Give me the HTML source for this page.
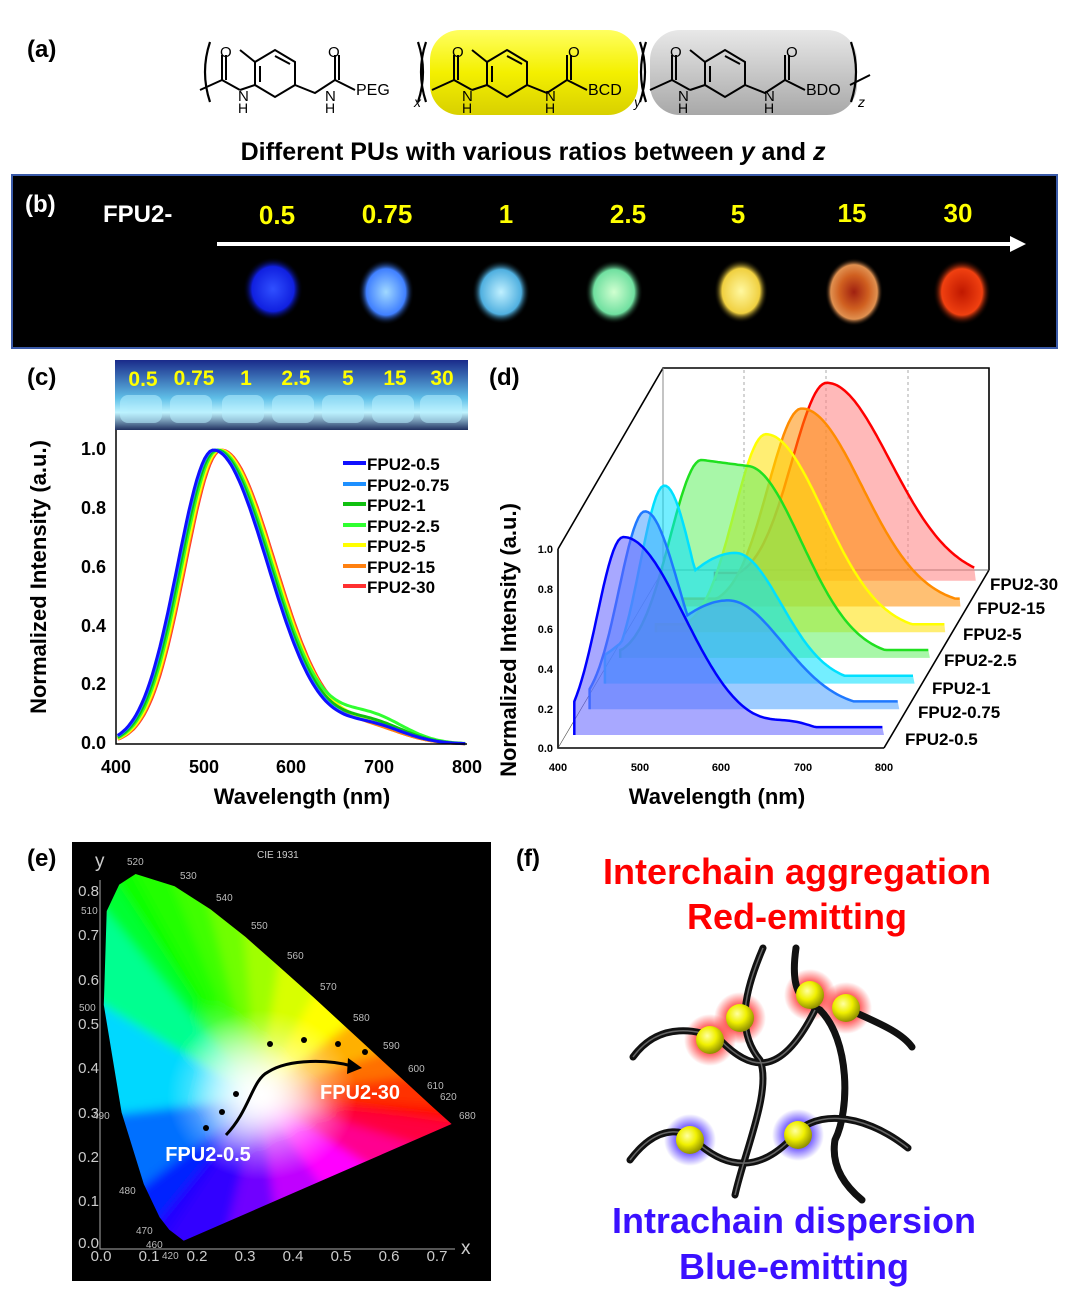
<!DOCTYPE html>
<html><head><meta charset="utf-8"><style>
html,body{margin:0;padding:0;background:#fff;}
svg{display:block;font-family:"Liberation Sans",Arial,sans-serif;}
</style></head><body>
<svg id="s" width="1080" height="1295" viewBox="0 0 1080 1295" xmlns="http://www.w3.org/2000/svg">
<defs>
<linearGradient id="yel" x1="0" y1="0" x2="0" y2="1"><stop offset="0" stop-color="#ffff60"/><stop offset="0.5" stop-color="#f4f000"/><stop offset="1" stop-color="#d8d000"/></linearGradient>
<linearGradient id="gry" x1="0" y1="0" x2="0" y2="1"><stop offset="0" stop-color="#e8e8e8"/><stop offset="0.5" stop-color="#c8c8c8"/><stop offset="1" stop-color="#a8a8a8"/></linearGradient>
<radialGradient id="b1"><stop offset="0" stop-color="#3050ff"/><stop offset="0.7" stop-color="#1020e0"/><stop offset="1" stop-color="#000" stop-opacity="0"/></radialGradient>
<radialGradient id="b2"><stop offset="0" stop-color="#a0d8ff"/><stop offset="0.7" stop-color="#4080ff"/><stop offset="1" stop-color="#000" stop-opacity="0"/></radialGradient>
<radialGradient id="b3"><stop offset="0" stop-color="#c0f0ff"/><stop offset="0.7" stop-color="#50b0e0"/><stop offset="1" stop-color="#000" stop-opacity="0"/></radialGradient>
<radialGradient id="b4"><stop offset="0" stop-color="#d0ffd0"/><stop offset="0.7" stop-color="#70e0a0"/><stop offset="1" stop-color="#000" stop-opacity="0"/></radialGradient>
<radialGradient id="b5"><stop offset="0" stop-color="#fff8a0"/><stop offset="0.7" stop-color="#f0d040"/><stop offset="1" stop-color="#000" stop-opacity="0"/></radialGradient>
<radialGradient id="b6"><stop offset="0" stop-color="#a02010"/><stop offset="0.5" stop-color="#d06020"/><stop offset="0.8" stop-color="#e09050"/><stop offset="1" stop-color="#000" stop-opacity="0"/></radialGradient>
<radialGradient id="b7"><stop offset="0" stop-color="#c01800"/><stop offset="0.7" stop-color="#f04010"/><stop offset="1" stop-color="#000" stop-opacity="0"/></radialGradient>
<linearGradient id="photo" x1="0" y1="0" x2="0" y2="1"><stop offset="0" stop-color="#1a2a8a"/><stop offset="0.55" stop-color="#60c0e8"/><stop offset="0.75" stop-color="#c0f4ff"/><stop offset="1" stop-color="#203060"/></linearGradient>
<clipPath id="cie"><path id="locus" d=""/></clipPath>
<filter id="blur" x="-0.1" y="-0.1" width="1.2" height="1.2"><feGaussianBlur stdDeviation="5"/></filter>
<radialGradient id="wp"><stop offset="0" stop-color="#fff" stop-opacity="1"/><stop offset="0.4" stop-color="#fff" stop-opacity="0.6"/><stop offset="1" stop-color="#fff" stop-opacity="0"/></radialGradient>
<radialGradient id="sph" cx="0.4" cy="0.35" r="0.65"><stop offset="0" stop-color="#ffffa0"/><stop offset="0.5" stop-color="#f0f000"/><stop offset="1" stop-color="#909000"/></radialGradient>
<radialGradient id="rg"><stop offset="0.4" stop-color="#ff2020" stop-opacity="0.9"/><stop offset="1" stop-color="#ff2020" stop-opacity="0"/></radialGradient>
<radialGradient id="bg"><stop offset="0.4" stop-color="#4020ff" stop-opacity="0.9"/><stop offset="1" stop-color="#4020ff" stop-opacity="0"/></radialGradient>
</defs>

<!-- (a) -->
<text x="27" y="57" font-size="24" font-weight="bold">(a)</text>
<rect x="430" y="30" width="208" height="85" rx="30" fill="url(#yel)"/>
<rect x="650" y="30" width="207" height="85" rx="30" fill="url(#gry)"/>
<g stroke="#000" stroke-width="2.2" fill="none">
<path d="M210 42 Q200 72 210 102 M418 42 Q428 72 418 102 M426 42 Q416 72 426 102 M640 42 Q650 72 640 102 M646 42 Q636 72 646 102 M851 42 Q861 72 851 102"/>
</g>
<g stroke="#000" stroke-width="2" fill="none">
<path d="M200 90 L222 80 L222 55 M226 80 L226 55 M222 80 L240 90"/>
<path d="M255 85 L255 62 L275 50 L295 62 L295 85 L275 97 Z M260 66 L260 82 M275 56 L290 64"/>
<path d="M255 62 L240 50 M240 90 L255 85"/>
<path d="M295 85 L315 93 L335 80 L335 55 M339 80 L339 55 M335 80 L355 90"/>
</g>
<text x="220" y="57" font-size="15">O</text><text x="238" y="101" font-size="15">N</text><text x="238" y="113" font-size="14">H</text>
<text x="328" y="57" font-size="15">O</text><text x="325" y="101" font-size="15">N</text><text x="325" y="113" font-size="14">H</text>
<text x="356" y="95" font-size="16">PEG</text><text x="414" y="107" font-size="14" font-style="italic">x</text>
<g transform="translate(232,0)">
<g stroke="#000" stroke-width="2" fill="none">
<path d="M200 90 L222 80 L222 55 M226 80 L226 55 M222 80 L240 90"/>
<path d="M255 85 L255 62 L275 50 L295 62 L295 85 L275 97 Z M260 66 L260 82 M275 56 L290 64"/>
<path d="M255 62 L240 50 M240 90 L255 85"/>
<path d="M295 85 L315 93 L335 80 L335 55 M339 80 L339 55 M335 80 L355 90"/>
</g>
<text x="220" y="57" font-size="15">O</text><text x="230" y="101" font-size="15">N</text><text x="230" y="113" font-size="14">H</text>
<text x="336" y="57" font-size="15">O</text><text x="313" y="101" font-size="15">N</text><text x="313" y="113" font-size="14">H</text>
<text x="356" y="95" font-size="16">BCD</text><text x="402" y="107" font-size="14" font-style="italic">y</text>
</g>
<g transform="translate(450,0)">
<g stroke="#000" stroke-width="2" fill="none">
<path d="M200 90 L222 80 L222 55 M226 80 L226 55 M222 80 L240 90"/>
<path d="M255 85 L255 62 L275 50 L295 62 L295 85 L275 97 Z M260 66 L260 82 M275 56 L290 64"/>
<path d="M255 62 L240 50 M240 90 L255 85"/>
<path d="M295 85 L315 93 L335 80 L335 55 M339 80 L339 55 M335 80 L355 90"/>
<path d="M400 85 L420 75"/>
</g>
<text x="220" y="57" font-size="15">O</text><text x="228" y="101" font-size="15">N</text><text x="228" y="113" font-size="14">H</text>
<text x="336" y="57" font-size="15">O</text><text x="314" y="101" font-size="15">N</text><text x="314" y="113" font-size="14">H</text>
<text x="356" y="95" font-size="16">BDO</text><text x="408" y="107" font-size="14" font-style="italic">z</text>
</g>
<text x="533" y="160" font-size="25" font-weight="bold" text-anchor="middle">Different PUs with various ratios between <tspan font-style="italic">y</tspan> and <tspan font-style="italic">z</tspan></text>

<!-- (b) -->
<rect x="12" y="175" width="1045" height="173" fill="#000" stroke="#3a5aa8" stroke-width="2"/>
<text x="25" y="212" font-size="24" font-weight="bold" fill="#fff">(b)</text>
<text x="103" y="222" font-size="24" font-weight="bold" fill="#fff">FPU2-</text>
<g font-size="26" font-weight="bold" fill="#ffff00" text-anchor="middle">
<text x="277" y="224">0.5</text><text x="387" y="223">0.75</text><text x="506" y="223">1</text><text x="628" y="223">2.5</text><text x="738" y="223">5</text><text x="852" y="222">15</text><text x="958" y="222">30</text>
</g>
<line x1="217" y1="244" x2="1012" y2="244" stroke="#fff" stroke-width="4"/>
<path d="M1026 244 L1010 236 L1010 252 Z" fill="#fff"/>
<ellipse cx="273" cy="289" rx="30" ry="32" fill="url(#b1)"/>
<ellipse cx="386" cy="292" rx="28" ry="33" fill="url(#b2)"/>
<ellipse cx="501" cy="292" rx="29" ry="32" fill="url(#b3)"/>
<ellipse cx="614" cy="292" rx="29" ry="32" fill="url(#b4)"/>
<ellipse cx="741" cy="291" rx="27" ry="32" fill="url(#b5)"/>
<ellipse cx="854" cy="292" rx="29" ry="34" fill="url(#b6)"/>
<ellipse cx="962" cy="292" rx="29" ry="33" fill="url(#b7)"/>

<!-- (c) -->
<text x="27" y="385" font-size="24" font-weight="bold">(c)</text>
<rect x="115" y="360" width="353" height="70" fill="url(#photo)"/>
<g fill="#b8f0ff" opacity="0.55">
<rect x="120" y="395" width="42" height="28" rx="8"/><rect x="170" y="395" width="42" height="28" rx="8"/><rect x="222" y="395" width="42" height="28" rx="8"/><rect x="272" y="395" width="42" height="28" rx="8"/><rect x="322" y="395" width="42" height="28" rx="8"/><rect x="372" y="395" width="42" height="28" rx="8"/><rect x="420" y="395" width="42" height="28" rx="8"/>
</g>
<g font-size="21" font-weight="bold" fill="#ffff00" text-anchor="middle">
<text x="143" y="386">0.5</text><text x="194" y="385">0.75</text><text x="246" y="385">1</text><text x="296" y="385">2.5</text><text x="348" y="385">5</text><text x="395" y="385">15</text><text x="442" y="385">30</text>
</g>
<g id="cplot"></g>
<g stroke="#000" stroke-width="1.5" fill="none"><path d="M116 430 L116 744 L467 744"/></g>
<g font-size="18" font-weight="bold" text-anchor="end">
<text x="106" y="455">1.0</text><text x="106" y="514">0.8</text><text x="106" y="573">0.6</text><text x="106" y="632">0.4</text><text x="106" y="690">0.2</text><text x="106" y="749">0.0</text>
</g>
<g font-size="18" font-weight="bold" text-anchor="middle">
<text x="116" y="773">400</text><text x="204" y="773">500</text><text x="291" y="773">600</text><text x="379" y="773">700</text><text x="467" y="773">800</text>
</g>
<text x="302" y="804" font-size="22" font-weight="bold" text-anchor="middle">Wavelength (nm)</text>
<text transform="translate(46,577) rotate(-90)" font-size="22" font-weight="bold" text-anchor="middle">Normalized Intensity (a.u.)</text>
<g font-size="17" font-weight="bold">
<line x1="343" y1="463" x2="366" y2="463" stroke="#1010ff" stroke-width="4"/><text x="367" y="470">FPU2-0.5</text>
<line x1="343" y1="484" x2="366" y2="484" stroke="#1e90ff" stroke-width="4"/><text x="367" y="491">FPU2-0.75</text>
<line x1="343" y1="504" x2="366" y2="504" stroke="#10c010" stroke-width="4"/><text x="367" y="511">FPU2-1</text>
<line x1="343" y1="525" x2="366" y2="525" stroke="#30ff30" stroke-width="4"/><text x="367" y="532">FPU2-2.5</text>
<line x1="343" y1="545" x2="366" y2="545" stroke="#ffff00" stroke-width="4"/><text x="367" y="552">FPU2-5</text>
<line x1="343" y1="566" x2="366" y2="566" stroke="#ff8010" stroke-width="4"/><text x="367" y="573">FPU2-15</text>
<line x1="343" y1="586" x2="366" y2="586" stroke="#ff3030" stroke-width="4"/><text x="367" y="593">FPU2-30</text>
</g>

<!-- (d) -->
<text x="489" y="385" font-size="24" font-weight="bold">(d)</text>
<g stroke="#000" stroke-width="1.6" fill="none">
<path d="M558 549 L663 368 L989 368 L989 570 M884 748 L989 570 M558 549 L558 748 L884 748"/>
</g>
<line x1="663" y1="368" x2="663" y2="570" stroke="#888" stroke-width="1"/>
<g stroke="#aaa" stroke-dasharray="3,3" stroke-width="1"><line x1="744" y1="370" x2="744" y2="570"/><line x1="826" y1="370" x2="826" y2="570"/><line x1="908" y1="370" x2="908" y2="570"/></g>
<line x1="558" y1="748" x2="663" y2="570" stroke="#444" stroke-width="0.6"/>
<line x1="663" y1="570" x2="989" y2="570" stroke="#444" stroke-width="0.8"/>
<g id="dplot"></g>
<g font-size="11" font-weight="bold" text-anchor="end">
<text x="553" y="553">1.0</text><text x="553" y="593">0.8</text><text x="553" y="633">0.6</text><text x="553" y="673">0.4</text><text x="553" y="713">0.2</text><text x="553" y="752">0.0</text>
</g>
<g font-size="11" font-weight="bold" text-anchor="middle">
<text x="558" y="771">400</text><text x="640" y="771">500</text><text x="721" y="771">600</text><text x="803" y="771">700</text><text x="884" y="771">800</text>
</g>
<g font-size="17" font-weight="bold">
<text x="990" y="590">FPU2-30</text><text x="977" y="614">FPU2-15</text><text x="963" y="640">FPU2-5</text><text x="944" y="666">FPU2-2.5</text><text x="932" y="694">FPU2-1</text><text x="918" y="718">FPU2-0.75</text><text x="905" y="745">FPU2-0.5</text>
</g>
<text x="717" y="804" font-size="22" font-weight="bold" text-anchor="middle">Wavelength (nm)</text>
<text transform="translate(516,640) rotate(-90)" font-size="22" font-weight="bold" text-anchor="middle">Normalized Intensity (a.u.)</text>

<!-- (e) -->
<text x="27" y="866" font-size="24" font-weight="bold">(e)</text>
<rect x="72" y="842" width="419" height="439" fill="#000"/>
<g clip-path="url(#cie)">
<g id="fan" filter="url(#blur)"></g>
<ellipse cx="262" cy="1095" rx="95" ry="85" fill="url(#wp)"/>
</g>
<g stroke="#aaa" stroke-width="1" fill="none"><path d="M100 880 L100 1249 L455 1249"/></g>
<g fill="#ccc" font-size="15" text-anchor="end">
<text x="99" y="896">0.8</text><text x="99" y="940">0.7</text><text x="99" y="985">0.6</text><text x="99" y="1029">0.5</text><text x="99" y="1073">0.4</text><text x="99" y="1118">0.3</text><text x="99" y="1162">0.2</text><text x="99" y="1206">0.1</text><text x="99" y="1248">0.0</text>
</g>
<g fill="#ccc" font-size="15" text-anchor="middle">
<text x="101" y="1261">0.0</text><text x="149" y="1261">0.1</text><text x="197" y="1261">0.2</text><text x="245" y="1261">0.3</text><text x="293" y="1261">0.4</text><text x="341" y="1261">0.5</text><text x="389" y="1261">0.6</text><text x="437" y="1261">0.7</text>
</g>
<text x="95" y="867" fill="#ccc" font-size="19">y</text>
<text x="461" y="1254" fill="#ccc" font-size="19">x</text>
<text x="257" y="858" fill="#ccc" font-size="10">CIE 1931</text>
<g fill="#bbb" font-size="10">
<text x="127" y="865">520</text><text x="180" y="879">530</text><text x="216" y="901">540</text><text x="251" y="929">550</text><text x="287" y="959">560</text><text x="320" y="990">570</text><text x="353" y="1021">580</text><text x="383" y="1049">590</text><text x="408" y="1072">600</text><text x="427" y="1089">610</text><text x="440" y="1100">620</text><text x="459" y="1119">680</text>
<text x="81" y="914">510</text><text x="79" y="1011">500</text><text x="93" y="1119">490</text><text x="119" y="1194">480</text><text x="136" y="1234">470</text><text x="146" y="1248">460</text><text x="162" y="1259">420</text>
</g>
<g fill="#000"><circle cx="206" cy="1128" r="3"/><circle cx="222" cy="1112" r="3"/><circle cx="236" cy="1094" r="3"/><circle cx="270" cy="1044" r="3"/><circle cx="304" cy="1040" r="3"/><circle cx="338" cy="1044" r="3"/><circle cx="365" cy="1052" r="3"/></g>
<path d="M226 1135 C250 1110 252 1080 268 1072 C290 1058 330 1060 352 1066" stroke="#000" stroke-width="3" fill="none"/>
<path d="M362 1068 L348 1058 L347 1074 Z" fill="#000"/>
<text x="360" y="1099" fill="#fff" font-size="20" font-weight="bold" text-anchor="middle">FPU2-30</text>
<text x="208" y="1161" fill="#fff" font-size="20" font-weight="bold" text-anchor="middle">FPU2-0.5</text>

<!-- (f) -->
<text x="516" y="866" font-size="24" font-weight="bold">(f)</text>
<g font-size="36" font-weight="bold" text-anchor="middle">
<text x="797" y="884" fill="#ff0000">Interchain aggregation</text>
<text x="797" y="929" fill="#ff0000">Red-emitting</text>
<text x="794" y="1233" fill="#3a10ff">Intrachain dispersion</text>
<text x="794" y="1279" fill="#3a10ff">Blue-emitting</text>
</g>
<circle cx="740" cy="1018" r="26" fill="url(#rg)"/><circle cx="710" cy="1040" r="26" fill="url(#rg)"/><circle cx="810" cy="995" r="26" fill="url(#rg)"/><circle cx="846" cy="1008" r="26" fill="url(#rg)"/>
<circle cx="690" cy="1140" r="26" fill="url(#bg)"/><circle cx="798" cy="1135" r="26" fill="url(#bg)"/>
<g stroke="#111" stroke-width="7" fill="none" stroke-linecap="round">
<path d="M763 948 C745 990 735 1030 760 1060 C772 1090 745 1150 735 1195"/>
<path d="M796 948 C790 990 800 1000 820 1010 C850 1040 850 1110 835 1140 C830 1170 850 1190 862 1200"/>
<path d="M633 1057 C660 1020 700 1030 720 1040 C750 1070 780 1080 815 1010"/>
<path d="M846 1008 C870 1020 900 1030 912 1047"/>
<path d="M630 1160 C660 1120 690 1130 700 1145 C730 1170 760 1170 790 1140 C810 1110 860 1110 908 1148"/>
</g>
<g stroke="#666" stroke-width="1.5" fill="none">
<path d="M763 948 C745 990 735 1030 760 1060 C772 1090 745 1150 735 1195"/>
<path d="M633 1057 C660 1020 700 1030 720 1040 C750 1070 780 1080 815 1010"/>
<path d="M630 1160 C660 1120 690 1130 700 1145 C730 1170 760 1170 790 1140 C810 1110 860 1110 908 1148"/>
</g>
<g fill="url(#sph)"><circle cx="740" cy="1018" r="14"/><circle cx="710" cy="1040" r="14"/><circle cx="810" cy="995" r="14"/><circle cx="846" cy="1008" r="14"/><circle cx="690" cy="1140" r="14"/><circle cx="798" cy="1135" r="14"/></g>
</svg>
<script>
(function(){
var NS="http://www.w3.org/2000/svg";
function el(p,t,a){var e=document.createElementNS(NS,t);for(var k in a)e.setAttribute(k,a[k]);p.appendChild(e);return e;}
function g(l,p,wl,wr){var w=l<p?wl:wr;return Math.exp(-Math.pow((l-p)/w,2));}
var c=document.getElementById('cplot');
var cc=[["#ff3030",520,0.05],["#ff8010",519,0.05],["#ffff00",518,0.06],["#30ff30",516,0.09],["#10c010",514,0.07],["#1e90ff",512,0.06],["#1010ff",511,0.06]];
cc.forEach(function(a){
  var d="";
  for(var l=402;l<=800;l+=3){
    var v=g(l,a[1],58,88)+a[2]*Math.exp(-Math.pow((l-690)/55,2));
    var x=116+(l-400)*0.8775,y=744-v*294;
    d+=(d?"L":"M")+x.toFixed(1)+" "+y.toFixed(1);}
  el(c,"path",{d:d,stroke:a[0],"stroke-width":3,fill:"none"});
});
var dp=document.getElementById('dplot');
var L=[
 {c:"#0000ff",f:"#6060ff",fn:function(l){return g(l,480,45,105)+0.05*Math.exp(-Math.pow((l-690)/40,2));},s:420},
 {c:"#1e78ff",f:"#4aa0ff",fn:function(l){return Math.max(g(l,488,45,60),0.55*g(l,590,130,95));},s:420},
 {c:"#00e0ff",f:"#00e0ff",fn:function(l){return Math.max(g(l,493,42,50),0.66*g(l,580,130,80));},s:420},
 {c:"#20e020",f:"#60f060",fn:function(l){return l<520?g(l,520,55,1):(l<575?1-0.03*(l-520)/55:0.97*g(l,575,1,95));},s:420},
 {c:"#ffff00",f:"#ffe000",fn:function(l){return g(l,580,55,100);},s:445},
 {c:"#ff8c00",f:"#ff8c00",fn:function(l){return g(l,605,58,105);},s:460},
 {c:"#ff0000",f:"#ff8080",fn:function(l){return g(l,617,60,110);},s:480}
];
for(var i=L.length-1;i>=0;i--){
  var a=L[i];var ox=i*15.3,base=735-i*25.7;
  var pts=[];
  for(var l=a.s;l<=800;l+=3){
    var v=Math.max(a.fn(l),0.04)*0.99;
    pts.push([(558+ox+(l-400)*0.815).toFixed(1),(base-v*200).toFixed(1)]);}
  var x0=558+ox+(a.s-400)*0.815,x1=558+ox+400*0.815;
  var d="M"+x0+" "+base+"L"+pts.map(function(p){return p.join(" ")}).join("L")+"L"+x1+" "+base+"Z";
  el(dp,"path",{d:d,fill:a.f,"fill-opacity":0.55,stroke:"none"});
  var d2="M"+x0+" "+base+"L"+pts.map(function(p){return p.join(" ")}).join("L");
  el(dp,"path",{d:d2,fill:"none",stroke:a.c,"stroke-width":2.5});
}
var loc=[[0.1741,0.005,"#3000ff"],[0.144,0.030,"#2000ff"],[0.124,0.058,"#0020ff"],[0.091,0.133,"#0070ff"],[0.045,0.295,"#00d8ff"],[0.008,0.538,"#00ff90"],[0.014,0.750,"#00ff30"],[0.040,0.81,"#10ff00"],[0.074,0.834,"#20ff00"],[0.155,0.806,"#40ff00"],[0.230,0.754,"#70ff00"],[0.302,0.692,"#a0ff00"],[0.373,0.624,"#d8ff00"],[0.444,0.555,"#ffff00"],[0.512,0.487,"#ffb000"],[0.575,0.424,"#ff7000"],[0.627,0.372,"#ff3000"],[0.691,0.308,"#ff1000"],[0.731,0.269,"#ff0000"]];
function X(x){return 100+x*481;}function Y(y){return 1243-y*442.5;}
var d="";loc.forEach(function(p){d+=(d?"L":"M")+X(p[0]).toFixed(1)+" "+Y(p[1]).toFixed(1);});
document.getElementById('locus').setAttribute('d',d+"Z");
var fan=document.getElementById('fan');var wx=X(0.33),wy=Y(0.33);
var defs=document.querySelector('defs');
function ext(x,y){return [wx+(x-wx)*1.15,wy+(y-wy)*1.15];}
for(var i=0;i<loc.length;i++){
  var a=loc[i],b=loc[(i+1)%loc.length];
  if(i==loc.length-1){
    var cols=["#ff0040","#ff0090","#ff00ff","#c000ff","#7000ff","#3000ff"];
    for(var k=0;k<6;k++){
      var t0=k/6,t1=(k+1)/6;
      var ax=X(a[0])+(X(b[0])-X(a[0]))*t0,ay=Y(a[1])+(Y(b[1])-Y(a[1]))*t0;
      var bx=X(a[0])+(X(b[0])-X(a[0]))*t1,by=Y(a[1])+(Y(b[1])-Y(a[1]))*t1;
      var id2="pg"+k;
      var lg2=el(defs,"linearGradient",{id:id2,gradientUnits:"userSpaceOnUse",x1:wx,y1:wy,x2:(ax+bx)/2,y2:(ay+by)/2});
      el(lg2,"stop",{offset:"0","stop-color":"#ffffff"});el(lg2,"stop",{offset:"0.45","stop-color":cols[k]});el(lg2,"stop",{offset:"1","stop-color":cols[k]});
      var A=ext(ax,ay),B=ext(bx,by);
      el(fan,"polygon",{points:wx+","+wy+" "+A[0]+","+A[1]+" "+B[0]+","+B[1],fill:"url(#"+id2+")",stroke:"url(#"+id2+")","stroke-width":2});
    }
    continue;
  }
  var id="fg"+i;
  var lg=el(defs,"linearGradient",{id:id,gradientUnits:"userSpaceOnUse",x1:wx,y1:wy,x2:(X(a[0])+X(b[0]))/2,y2:(Y(a[1])+Y(b[1]))/2});
  el(lg,"stop",{offset:"0","stop-color":"#ffffff"});
  el(lg,"stop",{offset:"0.45","stop-color":a[2]});
  el(lg,"stop",{offset:"1","stop-color":a[2]});
  var A=ext(X(a[0]),Y(a[1])),B=ext(X(b[0]),Y(b[1]));
  el(fan,"polygon",{points:wx+","+wy+" "+A[0]+","+A[1]+" "+B[0]+","+B[1],fill:"url(#"+id+")",stroke:"url(#"+id+")","stroke-width":2});
}
})();
</script>
</body></html>
